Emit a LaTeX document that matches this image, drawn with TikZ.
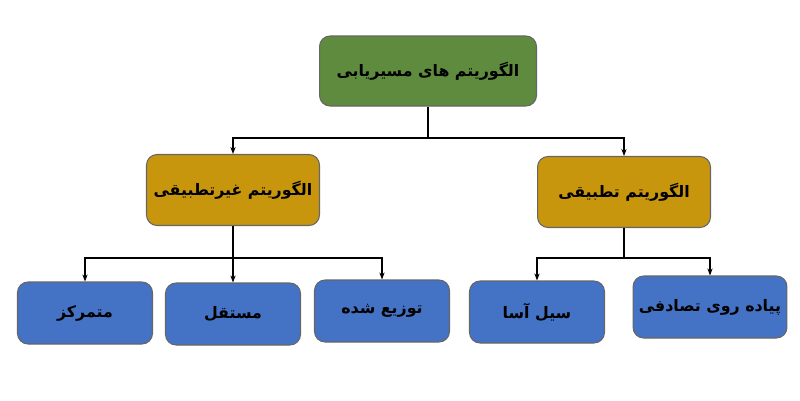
\documentclass[tikz,border=0pt]{standalone}
\usepackage{fontspec}
\newfontfamily\arabicfont[Script=Arabic]{DejaVu Sans}
\TeXXeTstate=1
\usetikzlibrary{arrows.meta}
\definecolor{rootgreen}{HTML}{5E8B3E}
\definecolor{midgold}{HTML}{C8960C}
\definecolor{leafblue}{HTML}{4472C4}
\tikzset{
  box/.style={rectangle, rounded corners=6pt, draw=black!60, line width=0.6pt,
    font=\arabicfont\bfseries\small, text=black},
  rootbox/.style={box, fill=rootgreen, minimum width=4.34cm, minimum height=1.4cm},
  midbox/.style={box, fill=midgold, minimum width=3.46cm, minimum height=1.42cm},
  leafbox/.style={box, fill=leafblue, minimum width=2.7cm, minimum height=1.24cm},
  link/.style={-{Stealth[length=4pt,width=3pt]}, line width=0.6pt}
}
\begin{document}
\begin{tikzpicture}[x=0.02cm, y=-0.02cm]
        \useasboundingbox (0,0) rectangle (800,400);
        % Root
        \node at (428, 71) (root) [rootbox] {\beginR الگوریتم های مسیریابی\endR};

        % Second level
        \node at (233, 190) (nonadapt) [midbox] {\beginR الگوریتم غیرتطبیقی\endR};
        \node at (624, 192) (adapt) [midbox] {\beginR الگوریتم تطبیقی\endR};

        % Leaves
        \node at (85, 313) (central) [leafbox] {\beginR متمرکز\endR};
        \node at (233, 314) (indep) [leafbox] {\beginR مستقل\endR};
        \node at (382, 311) (distrib) [leafbox] {\beginR توزیع شده\endR};
        \node at (537, 312) (flood) [leafbox] {\beginR سیل آسا\endR};
        \node at (710, 307) (walk) [leafbox] {\beginR پیاده روی تصادفی\endR};

        % Junctions
        \coordinate (j0) at (428, 138);
        \coordinate (j1) at (233, 258);
        \coordinate (j2) at (624, 258);

        % Edges
        \draw[line width=0.6pt] (root) -- (j0);
        \draw[link] (j0) -| (nonadapt);
        \draw[link] (j0) -| (adapt);
        \draw[line width=0.6pt] (nonadapt) -- (j1);
        \draw[link] (j1) -| (central);
        \draw[link] (j1) -- (indep);
        \draw[link] (j1) -| (distrib);
        \draw[line width=0.6pt] (adapt) -- (j2);
        \draw[link] (j2) -| (flood);
        \draw[link] (j2) -| (walk);
\end{tikzpicture}
\end{document}
